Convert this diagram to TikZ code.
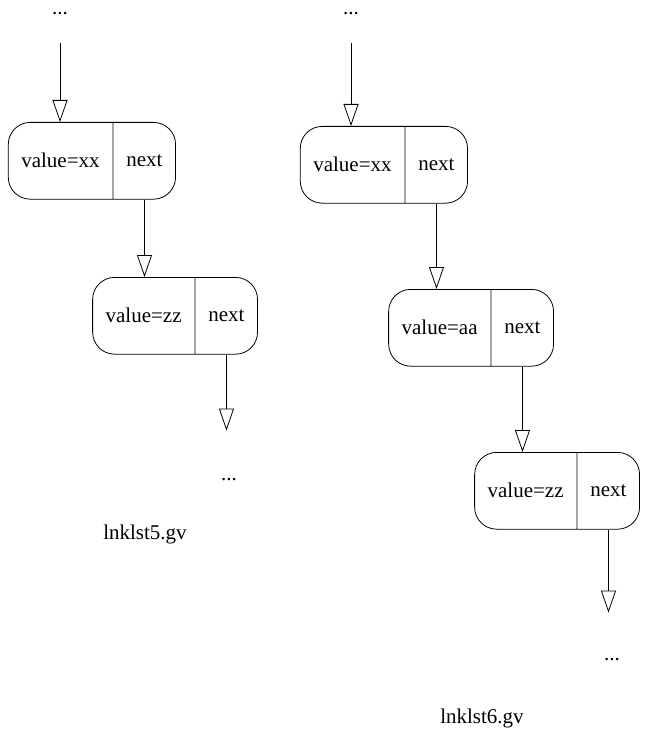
\documentclass[tikz,border=0pt]{standalone}
\usepackage{fontspec}
\setmainfont{Liberation Serif}
\usepackage{tikz}
\usetikzlibrary{shapes,positioning,arrows.meta}
\tikzset{rec/.style={rectangle split,rectangle split horizontal,rectangle split parts=2,draw,rounded corners=22pt,inner xsep=13pt,inner ysep=31pt,font=\fontsize{21}{25}\selectfont}}
\tikzset{dots/.style={inner sep=0pt,anchor=base,font=\fontsize{21}{25}\selectfont}}
\tikzset{lbl/.style={inner sep=0pt,anchor=base,font=\fontsize{21}{25}\selectfont}}

\begin{document}
\begin{tikzpicture}[x=1pt,y=-1pt,>={Triangle[open,length=22pt,width=15pt]},line width=0.8pt]
    \useasboundingbox (0,0) rectangle (649,730);

    % lnklst5
    \node[dots,text depth=28.5pt] (t) at (60,14.5) {...};
    \node[rec,anchor=one split north] (a) at (113,122) {value=xx\nodepart{two}next};
    \node[rec,anchor=one split north] (b) at (195,277) {value=zz\nodepart{two}next};
    \node[dots,text height=49pt] (u) at (229,480) {...};
    \node[lbl] (l) at (145,539) {lnklst5.gv};

    \draw [->] (t.south) to [] (t.south |- a.north);
    \draw [->] (a.two south) to [] (a.two south |- b.north);
    \draw [->] (b.two south) to [] (b.two south |- u.north);

    % lnklst6
    \node[dots,text depth=28.5pt] (p) at (351,14.5) {...};
    \node[rec,anchor=one split north] (c) at (405,126) {value=xx\nodepart{two}next};
    \node[rec,anchor=one split north] (d) at (491,289) {value=aa\nodepart{two}next};
    \node[rec,anchor=one split north] (e) at (577,452) {value=zz\nodepart{two}next};
    \node[dots,text height=47pt] (q) at (612,660) {...};
    \node[lbl] (m) at (482,723) {lnklst6.gv};

    \draw [->] (p.south) to [] (p.south |- c.north);
    \draw [->] (c.two south) to [] (c.two south |- d.north);
    \draw [->] (d.two south) to [] (d.two south |- e.north);
    \draw [->] (e.two south) to [] (e.two south |- q.north);
\end{tikzpicture}
\end{document}
